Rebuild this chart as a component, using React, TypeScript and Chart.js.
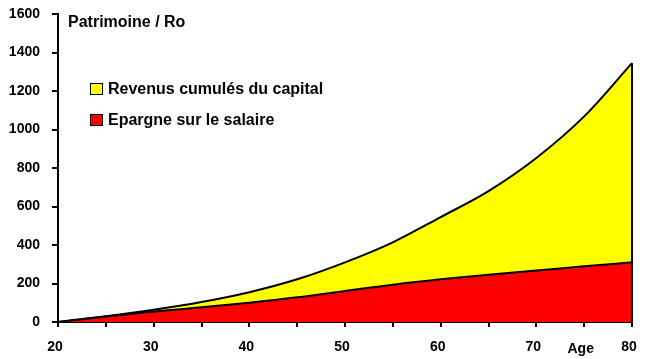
import React, { useEffect, useRef } from "react";
import { Chart, registerables } from "chart.js";

Chart.register(...registerables);

const ages = [20, 25, 30, 35, 40, 45, 50, 55, 60, 65, 70, 75, 80];
const savings = [0, 28, 54, 76, 100, 128, 161, 194, 222, 246, 267, 289, 310];
const totalWealth = [0, 30, 64, 104, 155, 222, 310, 414, 545, 680, 852, 1068, 1345];
const yTicks = [0, 200, 400, 600, 800, 1000, 1200, 1400, 1600];
const xLabelTicks = [20, 30, 40, 50, 60, 70, 80];
const seriesLabels = ["Epargne sur le salaire", "Revenus cumulés du capital"];
const seriesColors = ["#FF0000", "#FFFF00"];
const yTitle = "Patrimoine / Ro";
const xTitle = "Age";

const FONT = "'Liberation Sans', Arial, Helvetica, sans-serif";

const W = 646;
const H = 359;

const rightEdgePlugin = {
  id: "rightEdge",
  afterDatasetsDraw(chart: any) {
    const { ctx, scales } = chart;
    const last = ages.length - 1;
    const x = scales.x.getPixelForValue(ages[last]);
    const yTop = scales.y.getPixelForValue(totalWealth[last]);
    const yBot = scales.y.getPixelForValue(0);
    ctx.save();
    ctx.strokeStyle = "#000";
    ctx.lineWidth = 2;
    ctx.beginPath();
    ctx.moveTo(x, yTop);
    ctx.lineTo(x, yBot);
    ctx.stroke();
    ctx.restore();
  },
};

const zeroPadding = (s: any) => {
  s.paddingTop = 0;
  s.paddingBottom = 0;
  s.paddingLeft = 0;
  s.paddingRight = 0;
};

export default function App() {
  const ref = useRef<HTMLCanvasElement | null>(null);

  useEffect(() => {
    document.body.style.margin = "0";
    if (!ref.current) return;
    const chart = new Chart(ref.current, {
      type: "line",
      data: {
        datasets: [
          {
            label: seriesLabels[0],
            data: ages.map((a, i) => ({ x: a, y: savings[i] })),
            borderColor: "#000",
            borderWidth: 2,
            backgroundColor: seriesColors[0],
            fill: "origin",
            pointRadius: 0,
            cubicInterpolationMode: "monotone",
          },
          {
            label: seriesLabels[1],
            data: ages.map((a, i) => ({ x: a, y: totalWealth[i] })),
            borderColor: "#000",
            borderWidth: 2,
            backgroundColor: seriesColors[1],
            fill: "-1",
            pointRadius: 0,
            cubicInterpolationMode: "monotone",
          },
        ],
      },
      options: {
        responsive: false,
        animation: false,
        layout: { padding: { top: 14, right: 14, left: 0, bottom: 0 } },
        plugins: {
          legend: { display: false },
          tooltip: { enabled: false },
          title: { display: false },
        },
        scales: {
          x: {
            type: "linear",
            min: 20,
            max: 80,
            afterFit: (s: any) => {
              s.height = 37;
              zeroPadding(s);
            },
            afterBuildTicks: (s: any) => {
              const t: any[] = [];
              for (let v = 20; v <= 80; v += 5) t.push({ value: v });
              s.ticks = t;
            },
            ticks: {
              autoSkip: false,
              maxRotation: 0,
              padding: 12,
              labelOffset: -3,
              color: "#000",
              font: { family: FONT, size: 14, weight: "bold" },
              callback: (v: any) => (xLabelTicks.includes(v) ? String(v) : ""),
            },
            grid: {
              display: true,
              drawOnChartArea: false,
              drawTicks: true,
              tickLength: 5,
              color: "#000",
              lineWidth: 2,
            },
            border: { display: true, color: "#000", width: 2 },
          },
          y: {
            min: 0,
            max: 1600,
            afterFit: (s: any) => {
              s.width = 58;
              zeroPadding(s);
            },
            afterBuildTicks: (s: any) => {
              s.ticks = yTicks.map((v) => ({ value: v }));
            },
            ticks: {
              padding: 12,
              color: "#000",
              font: { family: FONT, size: 14, weight: "bold" },
              callback: (v: any) => String(v),
            },
            grid: {
              display: true,
              drawOnChartArea: false,
              drawTicks: true,
              tickLength: 6,
              color: "#000",
              lineWidth: 2,
            },
            border: { display: true, color: "#000", width: 2 },
          },
        },
      },
      plugins: [rightEdgePlugin],
    });
    return () => chart.destroy();
  }, []);

  const textBase: React.CSSProperties = {
    position: "absolute",
    fontFamily: FONT,
    fontWeight: "bold",
    color: "#000",
    whiteSpace: "nowrap",
  };

  const legendItems = [1, 0];

  return (
    <div style={{ position: "relative", width: W, height: H, background: "#fff" }}>
      <canvas ref={ref} width={W} height={H} style={{ display: "block" }} />
      <div style={{ ...textBase, left: 68, top: 13.5, fontSize: 16, lineHeight: "16px" }}>{yTitle}</div>
      {legendItems.map((idx, k) => (
        <div key={idx}>
          <div
            style={{
              position: "absolute",
              left: 90,
              top: 83 + k * 31,
              width: 11,
              height: 10,
              background: seriesColors[idx],
              border: "1px solid #000",
            }}
          />
          <div style={{ ...textBase, left: 108, top: 80.5 + k * 31, fontSize: 16, lineHeight: "16px" }}>
            {seriesLabels[idx]}
          </div>
        </div>
      ))}
      <div style={{ ...textBase, left: 567.5, top: 340.6, fontSize: 14, lineHeight: "14px" }}>{xTitle}</div>
    </div>
  );
}
